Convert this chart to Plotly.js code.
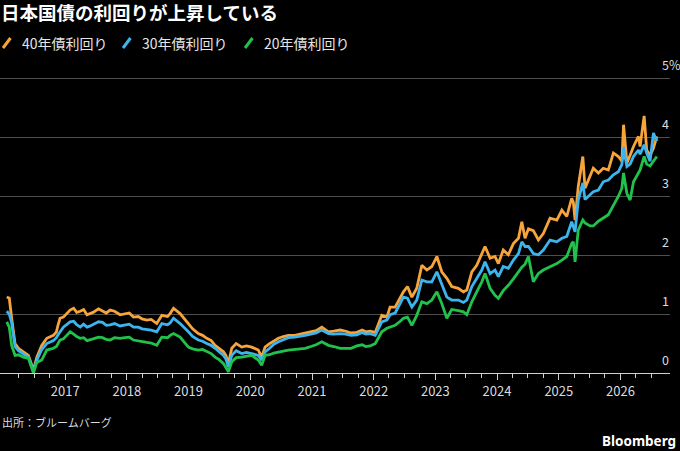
<!DOCTYPE html>
<html>
<head>
<meta charset="utf-8">
<script src="https://cdn.plot.ly/plotly-3.0.1.min.js"></script>
<style>
  html, body { margin: 0; padding: 0; background: #000; }
  #chart { width: 680px; height: 451px; }
</style>
</head>
<body>
<div id="chart"></div>
<script>
// JGB yields
var dates = [
  '2016-01-21','2016-02-05','2016-02-19','2016-03-10','2016-03-30','2016-04-28','2016-05-28','2016-06-27',
  '2016-07-17','2016-08-15','2016-09-14','2016-10-23','2016-11-10','2016-11-20','2016-12-01','2016-12-21',
  '2017-01-30','2017-02-20','2017-03-10','2017-03-31','2017-04-20','2017-05-10','2017-05-29','2017-06-15',
  '2017-07-17','2017-08-10','2017-09-01','2017-09-24','2017-10-20','2017-11-22','2017-12-20',
  '2018-01-15','2018-02-09','2018-03-10','2018-04-01','2018-04-29','2018-05-25','2018-06-27','2018-07-27',
  '2018-08-30','2018-09-14','2018-10-04','2018-11-12','2018-12-31',
  '2019-01-25','2019-02-28','2019-03-25','2019-04-19','2019-05-15','2019-06-07','2019-06-30','2019-07-27',
  '2019-08-10','2019-08-25','2019-09-14','2019-10-10','2019-11-12','2019-12-10',
  '2020-01-10','2020-02-18','2020-03-09','2020-03-29','2020-04-25','2020-05-20','2020-06-16','2020-07-15',
  '2020-08-14','2020-09-20','2020-10-20','2020-11-21','2020-12-25',
  '2021-01-25','2021-02-28','2021-03-20','2021-04-08','2021-05-10','2021-06-17','2021-07-20','2021-08-20',
  '2021-09-23','2021-10-25','2021-11-15','2021-12-11',
  '2022-01-10','2022-02-18','2022-03-20','2022-04-08','2022-05-08','2022-06-07','2022-06-26','2022-07-20',
  '2022-08-15','2022-09-13','2022-10-13','2022-11-12','2022-12-11',
  '2023-01-10','2023-02-08','2023-03-10','2023-04-08','2023-05-17','2023-06-16','2023-07-06','2023-08-05',
  '2023-09-03','2023-10-03','2023-10-22','2023-11-21','2023-12-20',
  '2024-01-09','2024-02-07','2024-03-08','2024-04-07','2024-05-07','2024-05-27','2024-06-15','2024-07-05',
  '2024-08-03','2024-09-02','2024-10-01','2024-11-10','2024-12-20',
  '2025-01-19','2025-02-17','2025-03-18','2025-03-28','2025-04-07','2025-04-26','2025-05-23','2025-06-05',
  '2025-07-05','2025-07-24','2025-08-23','2025-09-21','2025-10-21','2025-11-20','2025-12-19',
  '2026-01-09','2026-01-19','2026-02-08','2026-02-27','2026-03-19','2026-04-17','2026-04-27','2026-05-21',
  '2026-06-05','2026-06-25','2026-07-15','2026-08-04'
];

var jgb40 = [
  1.29,1.27,0.93,0.50,0.42,0.36,0.30,0.05,
  0.27,0.47,0.59,0.64,0.70,0.82,0.93,0.95,
  1.07,1.10,1.03,1.05,1.08,0.99,1.01,1.03,
  1.09,1.06,1.02,1.07,1.05,0.99,1.00,
  1.02,0.95,0.96,0.92,0.90,0.91,0.84,0.98,
  0.96,1.01,1.10,1.01,0.84,
  0.75,0.67,0.64,0.59,0.55,0.47,0.42,0.36,
  0.30,0.16,0.42,0.50,0.44,0.46,
  0.44,0.39,0.27,0.44,0.50,0.55,0.59,0.62,
  0.64,0.64,0.66,0.67,0.70,
  0.72,0.78,0.74,0.70,0.71,0.73,0.71,0.68,
  0.69,0.73,0.70,0.71,
  0.69,0.98,0.95,1.12,1.12,1.29,1.38,1.47,
  1.29,1.44,1.83,1.75,1.81,
  1.98,1.72,1.61,1.47,1.44,1.38,1.41,1.72,
  1.83,2.01,2.15,1.95,1.98,
  1.86,2.09,2.01,2.20,2.29,2.57,2.29,2.45,
  2.42,2.26,2.37,2.63,2.60,
  2.77,2.66,2.97,2.90,2.60,3.17,3.68,3.14,
  3.34,3.48,3.40,3.48,3.45,3.74,3.68,
  3.60,4.22,3.57,3.70,3.85,4.02,3.85,4.37,
  3.79,3.70,3.82,4.02
];

var jgb30 = [
  1.05,1.00,0.85,0.45,0.38,0.32,0.27,0.03,
  0.22,0.40,0.50,0.55,0.60,0.65,0.70,0.78,
  0.87,0.88,0.82,0.78,0.83,0.78,0.80,0.82,
  0.87,0.86,0.81,0.82,0.84,0.80,0.82,
  0.83,0.78,0.78,0.75,0.74,0.73,0.70,0.84,
  0.82,0.85,0.93,0.84,0.70,
  0.62,0.56,0.54,0.50,0.47,0.42,0.37,0.30,
  0.24,0.10,0.30,0.38,0.33,0.35,
  0.33,0.30,0.22,0.36,0.42,0.49,0.53,0.57,
  0.60,0.61,0.62,0.64,0.66,
  0.68,0.73,0.70,0.67,0.66,0.67,0.66,0.64,
  0.65,0.69,0.66,0.67,
  0.64,0.87,0.90,0.99,1.02,1.18,1.29,1.27,
  1.12,1.24,1.58,1.55,1.55,
  1.72,1.52,1.29,1.24,1.24,1.20,1.24,1.47,
  1.61,1.75,1.89,1.69,1.75,
  1.64,1.81,1.78,1.92,2.03,2.23,2.15,2.15,
  2.03,2.01,2.09,2.26,2.23,
  2.29,2.32,2.57,2.50,2.40,2.94,3.23,2.95,
  3.03,3.08,3.11,3.25,3.28,3.37,3.42,
  3.54,3.82,3.51,3.55,3.68,3.79,3.72,3.88,
  3.74,3.60,4.08,3.94
];

var jgb20 = [
  0.87,0.78,0.47,0.30,0.31,0.27,0.25,0.00,
  0.18,0.22,0.39,0.42,0.45,0.50,0.56,0.58,
  0.70,0.66,0.62,0.59,0.60,0.55,0.56,0.58,
  0.61,0.60,0.57,0.56,0.60,0.59,0.60,
  0.61,0.56,0.55,0.53,0.52,0.51,0.47,0.61,
  0.60,0.64,0.67,0.61,0.44,
  0.41,0.39,0.40,0.36,0.33,0.27,0.23,0.16,
  0.10,0.02,0.19,0.26,0.27,0.29,
  0.30,0.22,0.13,0.30,0.31,0.34,0.36,0.37,
  0.39,0.40,0.41,0.42,0.45,
  0.48,0.53,0.50,0.47,0.45,0.42,0.42,0.42,
  0.46,0.48,0.45,0.46,
  0.50,0.70,0.76,0.78,0.81,0.88,0.93,0.95,
  0.81,0.98,1.21,1.18,1.24,
  1.38,1.18,0.93,1.08,1.06,1.04,0.99,1.21,
  1.38,1.55,1.69,1.44,1.32,
  1.27,1.40,1.49,1.60,1.72,1.80,1.85,1.98,
  1.55,1.69,1.75,1.81,1.86,
  1.92,1.98,2.20,2.23,1.89,2.43,2.60,2.55,
  2.50,2.50,2.58,2.63,2.69,2.85,3.00,
  3.14,3.40,3.05,2.94,3.25,3.40,3.45,3.68,
  3.55,3.52,3.60,3.68
];

var seriesNames = ['40年債利回り', '30年債利回り', '20年債利回り'];
var seriesColors = ['#f7a43b', '#3cb4ee', '#20c24c'];

var yTickVals = [0, 1, 2, 3, 4, 5];
var yTickText = ['0', '1', '2', '3', '4', '5%'];
var yearTicks = ['2017-01-01','2018-01-01','2019-01-01','2020-01-01','2021-01-01',
                 '2022-01-01','2023-01-01','2024-01-01','2025-01-01','2026-01-01'];
var yearLabels = ['2017','2018','2019','2020','2021','2022','2023','2024','2025','2026'];

// quarter ticks between the year ticks
var quarterTicks = [];
for (var yr = 2016; yr <= 2026; yr++) {
  ['04', '07', '10'].forEach(function (m) {
    if (yr === 2026 && m === '10') return;
    quarterTicks.push(yr + '-' + m + '-01');
  });
}

var FONT = '"Noto Sans CJK JP", "Noto Sans", sans-serif';
var W = 680, H = 451;
var margin = {l: 0, r: 10, t: 70, b: 78};
var plotW = W - margin.l - margin.r;
var plotH = H - margin.t - margin.b;

// pixel -> paper helpers for the decorations outside the plot
function px(x) { return (x - margin.l) / plotW; }
function py(y) { return (H - margin.b - y) / plotH; }

var allSeries = [jgb40, jgb30, jgb20];
var traces = allSeries.map(function (vals, i) {
  return {
    x: dates,
    y: vals,
    type: 'scatter',
    mode: 'lines',
    name: seriesNames[i],
    line: {color: seriesColors[i], width: 2.8},
    showlegend: false,
    hoverinfo: 'skip'
  };
});

var legendX = [3, 123, 245];
var shapes = [];
var annotations = [];
seriesNames.forEach(function (nm, i) {
  shapes.push({
    type: 'line', xref: 'paper', yref: 'paper',
    x0: px(legendX[i]), y0: py(48), x1: px(legendX[i] + 7.5), y1: py(38),
    line: {color: seriesColors[i], width: 3}
  });
  annotations.push({
    text: nm, xref: 'paper', yref: 'paper',
    x: px(legendX[i] + 17), y: py(43), xanchor: 'left', yanchor: 'middle',
    showarrow: false, font: {family: FONT, size: 14, color: '#e6e6e6'}
  });
});

annotations.push({
  text: '出所：ブルームバーグ', xref: 'paper', yref: 'paper',
  x: px(0), y: py(422), xanchor: 'left', yanchor: 'middle',
  showarrow: false, font: {family: FONT, size: 11, color: '#dcdcdc'}
});
annotations.push({
  text: 'Bloomberg', xref: 'paper', yref: 'paper',
  x: px(678), y: py(441), xanchor: 'right', yanchor: 'middle',
  showarrow: false, font: {family: '"Noto Sans", sans-serif', size: 13.5, color: '#ffffff', weight: 700}
});

var layout = {
  width: W,
  height: H,
  margin: margin,
  paper_bgcolor: '#000',
  plot_bgcolor: '#000',
  font: {family: FONT, color: '#dcdcdc'},
  title: {
    text: '日本国債の利回りが上昇している',
    x: 1 / W, xref: 'container', xanchor: 'left',
    y: 1 - 14 / H, yref: 'container', yanchor: 'middle',
    font: {family: FONT, size: 18.5, color: '#ffffff', weight: 700}
  },
  showlegend: false,
  xaxis: {
    type: 'date',
    range: ['2015-12-12', '2026-10-21'],
    tickmode: 'array',
    tickvals: yearTicks,
    ticktext: yearLabels,
    ticks: 'outside',
    ticklen: 6,
    tickwidth: 1,
    tickcolor: '#d0d0d0',
    minor: {tickmode: 'array', tickvals: quarterTicks, ticks: 'outside', ticklen: 4, tickwidth: 1, tickcolor: '#d0d0d0', showgrid: false},
    showline: true,
    linecolor: '#d0d0d0',
    linewidth: 1,
    showgrid: false,
    zeroline: false,
    tickfont: {family: FONT, size: 13, color: '#dcdcdc'}
  },
  yaxis: {
    side: 'right',
    range: [0, 5.15],
    tickmode: 'array',
    tickvals: yTickVals,
    ticktext: yTickText,
    ticks: '',
    ticklabelposition: 'outside top',
    ticklabelstandoff: -9,
    ticklabelshift: -4,
    showgrid: true,
    gridcolor: '#4f4f4f',
    gridwidth: 1,
    zeroline: false,
    showline: false,
    tickfont: {family: FONT, size: 12.5, color: '#dcdcdc'}
  },
  shapes: shapes,
  annotations: annotations
};

Plotly.newPlot('chart', traces, layout, {displayModeBar: false, staticPlot: true});
</script>
</body>
</html>
